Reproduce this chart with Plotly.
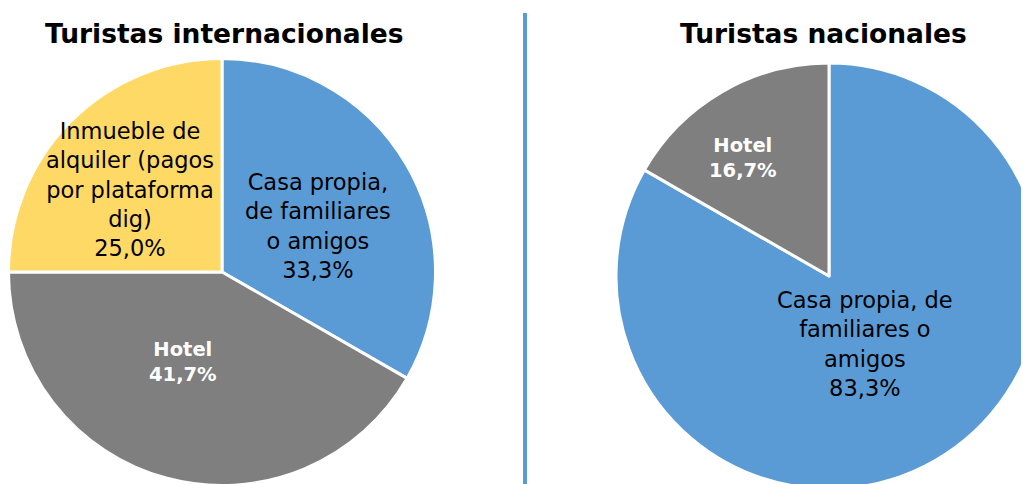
import plotly.graph_objects as go

# ---- data ----
int_labels = ["Casa propia, de familiares o amigos", "Hotel", "Inmueble de alquiler (pagos por plataforma dig)"]
int_values = [33.3, 41.7, 25.0]
int_text = ["Casa propia,<br>de familiares<br>o amigos", "<b>Hotel</b>", "Inmueble de<br>alquiler (pagos<br>por plataforma<br>dig)"]

nac_labels = ["Casa propia, de familiares o amigos", "Hotel"]
nac_values = [83.3, 16.7]
nac_text = ["Casa propia, de<br>familiares o<br>amigos", "<b>Hotel</b>"]

titles = ["Turistas internacionales", "Turistas nacionales"]

colors = {"Casa propia, de familiares o amigos": "#5B9BD5",
          "Hotel": "#7F7F7F",
          "Inmueble de alquiler (pagos por plataforma dig)": "#FFD966"}

W, H = 1060, 500
OFF = 8  # page body margin
FONT = "DejaVu Sans"

def fx(x):
    return (x - OFF) / W

def fy(y):
    return 1 - (y - OFF) / H

fig = go.Figure()

# pies
left_dom = dict(x=[fx(8.5), fx(435.5)], y=[fy(485.5), fy(58.5)])
right_dom = dict(x=[fx(616), fx(1042)], y=[fy(489), fy(63)])

for labels, values, dom in [(int_labels, int_values, left_dom), (nac_labels, nac_values, right_dom)]:
    dom = dict(x=[max(0, dom["x"][0]), min(1, dom["x"][1])], y=[max(0, dom["y"][0]), min(1, dom["y"][1])])
    fig.add_trace(go.Pie(
        labels=labels, values=values, sort=False, direction="clockwise", rotation=0,
        marker=dict(colors=[colors[l] for l in labels], line=dict(color="white", width=3)),
        textinfo="none", hoverinfo="label+percent", showlegend=False, domain=dom,
    ))

def pct(v, vals):
    return f"{100 * v / sum(vals):.1f}".replace(".", ",") + "%"

label_pos = [
    (int_text[0], pct(int_values[0], int_values), 318, 226, "black", False),
    (int_text[1], pct(int_values[1], int_values), 183, 362, "white", True),
    (int_text[2], pct(int_values[2], int_values), 130, 189, "black", False),
    (nac_text[0], pct(nac_values[0], nac_values), 865, 344, "black", False),
    (nac_text[1], pct(nac_values[1], nac_values), 743, 158, "white", True),
]
for txt, p, x, y, col, bold in label_pos:
    ptxt = f"<b>{p}</b>" if bold else p
    fig.add_annotation(x=fx(x), y=fy(y), xref="paper", yref="paper", text=f"{txt}<br>{ptxt}",
                       showarrow=False, xanchor="center", yanchor="middle",
                       font=dict(family=FONT, size=19.5 if bold else 22.5, color=col))

# titles
for t, x in zip(titles, [224, 823]):
    fig.add_annotation(x=fx(x), y=fy(33), xref="paper", yref="paper", text=f"<b>{t}</b>",
                       showarrow=False, xanchor="center", yanchor="middle",
                       font=dict(family=FONT, size=26.5, color="black"))

# divider line
fig.add_shape(type="line", xref="paper", yref="paper", x0=fx(525), x1=fx(525),
              y0=fy(13), y1=0, line=dict(color="#5B9BD5", width=4))

fig.update_layout(width=W, height=H, margin=dict(l=0, r=0, t=0, b=0),
                  paper_bgcolor="white", plot_bgcolor="white", separators=",.")

fig.write_html("out.html")
